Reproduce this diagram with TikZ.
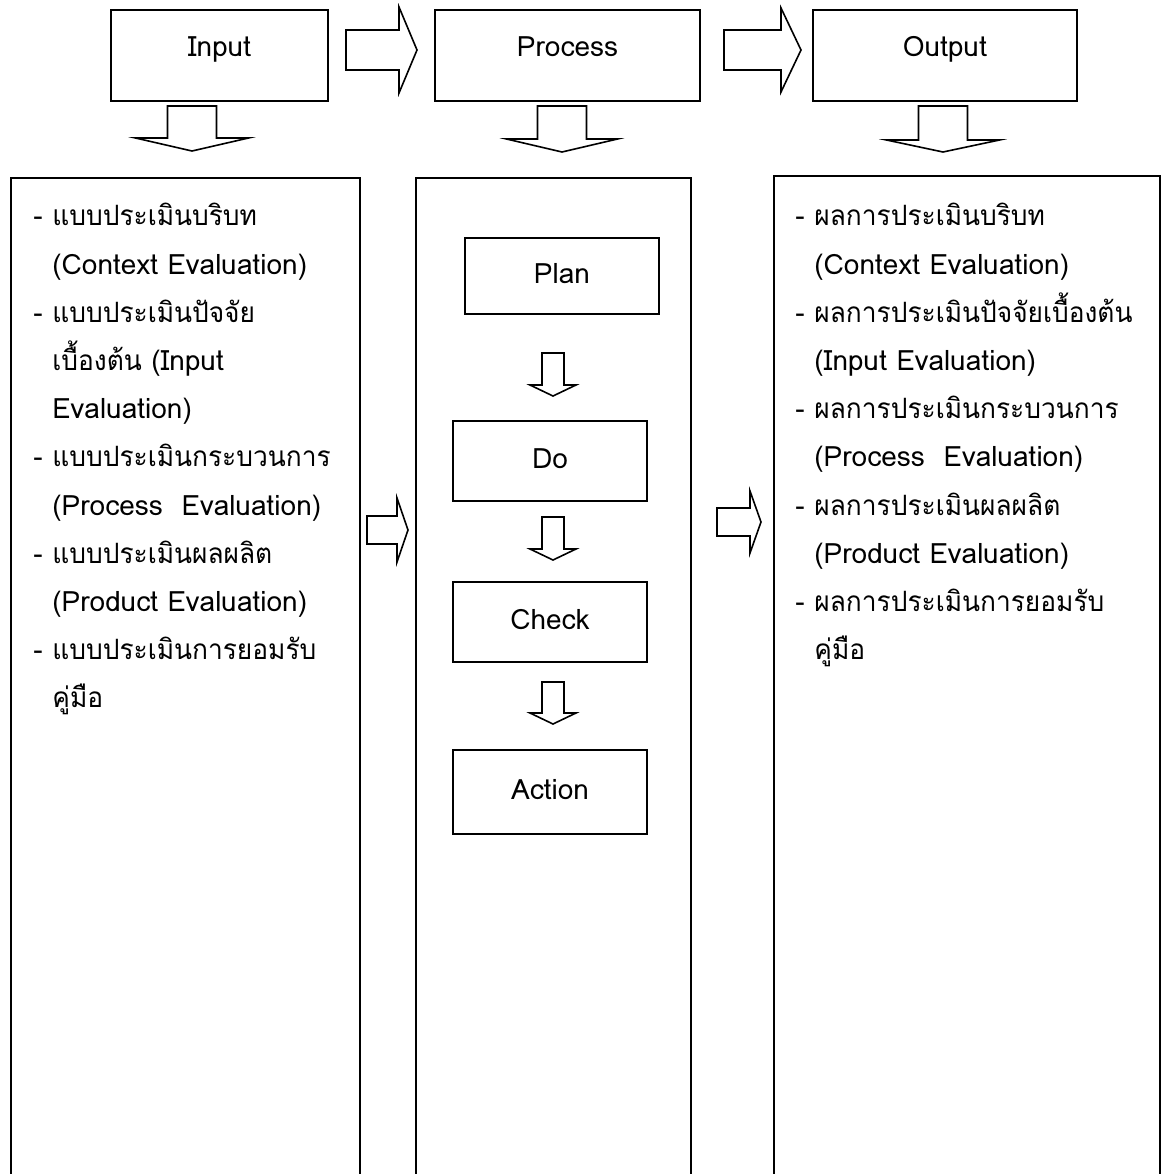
\documentclass[tikz,border=0pt]{standalone}
\usepackage{fontspec}
\setmainfont[Script=Thai]{Loma}
\newfontfamily\thaifont[Script=Thai, FakeStretch=0.94]{Loma}

\tikzset{
  box/.style={draw, line width=0.9pt, inner sep=0pt, text height=10pt, text depth=3pt,
    font=\fontsize{14}{16}\selectfont},
  headbox/.style={box, minimum height=45.5pt, text depth=9pt},
  blockarrow/.style={draw, line width=0.8pt, fill=white, line join=miter},
  itemlist/.style={align=left, inner sep=0pt, anchor=north west,
    font=\fontsize{14}{24.1}\selectfont},
}

% block arrows: body left, head start, tip, centre y, body half, head half
\newcommand{\rightblock}[6]{%
  \draw[blockarrow] (#1,#4-#5) -- (#2,#4-#5) -- (#2,#4-#6) -- (#3,#4)
    -- (#2,#4+#6) -- (#2,#4+#5) -- (#1,#4+#5) -- cycle;}
% centre x, top, head start, tip, body half, head half
\newcommand{\downblock}[6]{%
  \draw[blockarrow] (#1-#5,#2) -- (#1+#5,#2) -- (#1+#5,#3) -- (#1+#6,#3)
    -- (#1,#4) -- (#1-#6,#3) -- (#1-#5,#3) -- cycle;}

\newcommand{\itm}{\makebox[9.5pt][l]{-}}
\newcommand{\cnt}{\hspace*{9.5pt}}
\newcommand{\thtext}[1]{{\thaifont #1}}

\begin{document}
\begin{tikzpicture}[x=0.5pt, y=-0.5pt]
    \useasboundingbox (0,0) rectangle (1161,1174);

    % top row
    \node[headbox, minimum width=108.5pt] (input) at (219.5,55.5) {Input};
    \node[headbox, minimum width=132.5pt] (process) at (567.5,55.5) {Process};
    \node[headbox, minimum width=132pt] (output) at (945,55.5) {Output};

    \rightblock{346}{399}{417}{50}{20}{43}
    \rightblock{724}{781}{801}{50}{20}{42}

    \downblock{192}{106}{138}{151}{24.5}{56.5}
    \downblock{562}{106}{139}{152}{24.5}{55.5}
    \downblock{943}{106}{140}{152}{24.5}{56.5}

    % columns
    \node[box, minimum width=174.5pt, minimum height=520pt, anchor=north west] (inlist) at (10,177) {};
    \node[box, minimum width=137.5pt, minimum height=520pt, anchor=north west] (proclist) at (415,177) {};
    \node[box, minimum width=193pt, minimum height=520pt, anchor=north west] (outlist) at (773,175) {};

    \rightblock{367}{397}{408}{530}{14}{32}
    \rightblock{717}{750}{761}{522}{14}{31}

    \node[itemlist] (intext) at (33,203) {%
      \itm \thtext{แบบประเมินบริบท}\\
      \cnt(Context Evaluation)\\
      \itm \thtext{แบบประเมินปัจจัย}\\
      \cnt \thtext{เบื้องต้น} (Input\\
      \cnt Evaluation)\\
      \itm \thtext{แบบประเมินกระบวนการ}\\
      \cnt(Process\ \ Evaluation)\\
      \itm \thtext{แบบประเมินผลผลิต}\\
      \cnt(Product Evaluation)\\
      \itm \thtext{แบบประเมินการยอมรับ}\\
      \cnt \thtext{คู่มือ}};

    \node[itemlist] (outtext) at (795,203) {%
      \itm \thtext{ผลการประเมินบริบท}\\
      \cnt(Context Evaluation)\\
      \itm \thtext{ผลการประเมินปัจจัยเบื้องต้น}\\
      \cnt(Input Evaluation)\\
      \itm \thtext{ผลการประเมินกระบวนการ}\\
      \cnt(Process\ \ Evaluation)\\
      \itm \thtext{ผลการประเมินผลผลิต}\\
      \cnt(Product Evaluation)\\
      \itm \thtext{ผลการประเมินการยอมรับ}\\
      \cnt \thtext{คู่มือ}};

    % PDCA
    \node[box, minimum width=97pt, minimum height=38pt] (plan) at (562,276) {Plan};
    \node[box, minimum width=97pt, minimum height=40pt] (do) at (550,461) {Do};
    \node[box, minimum width=97pt, minimum height=40pt] (check) at (550,622) {Check};
    \node[box, minimum width=97pt, minimum height=42pt] (action) at (550,792) {Action};

    \downblock{553}{353}{385}{396}{11}{23}
    \downblock{553}{517}{549}{560}{11}{23}
    \downblock{553}{682}{713}{724}{11}{23}
\end{tikzpicture}
\end{document}
